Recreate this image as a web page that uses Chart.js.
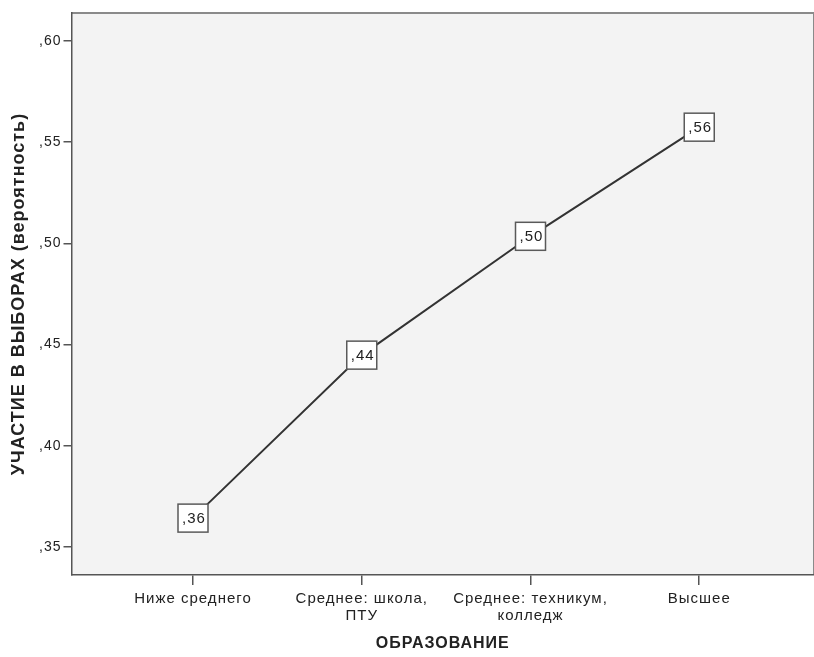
<!DOCTYPE html>
<html>
<head>
<meta charset="utf-8">
<script src="https://cdn.jsdelivr.net/npm/chart.js@4.4.1/dist/chart.umd.min.js"></script>
<style>
  body { margin: 0; background: #ffffff; }
  canvas { display: block; }
</style>
</head>
<body>
<canvas id="turnoutChart" width="814" height="657"></canvas>
<script>
// Education level vs. probability of voting (SPSS-style line chart)

const educationLevels = [
    ['Ниже среднего'],
    ['Среднее: школа,', 'ПТУ'],
    ['Среднее: техникум,', 'колледж'],
    ['Высшее']
];
const turnoutProb = [0.3643, 0.4448, 0.5035, 0.5574];
const yTickValues = [0.35, 0.40, 0.45, 0.50, 0.55, 0.60];

const FONT = '"Liberation Sans", Arial, sans-serif';

// format like SPSS: ,36 instead of 0.36
function commaFormat(v) {
    return ',' + v.toFixed(2).split('.')[1];
}

// SPSS text is a bit spaced out
const spacing = {
    id: 'spacing',
    beforeLayout(chart) { chart.ctx.letterSpacing = '1px'; },
    beforeDraw(chart) { chart.ctx.letterSpacing = '1px'; }
};

// grey background and frame for the plot area
const plotFrame = {
    id: 'plotFrame',
    beforeDraw(chart) {
        const { ctx, chartArea: a } = chart;
        ctx.save();
        ctx.fillStyle = '#f3f3f3';
        ctx.fillRect(a.left, a.top, a.right - a.left, a.bottom - a.top);
        ctx.strokeStyle = '#8a8a8a';
        ctx.lineWidth = 2;
        ctx.beginPath();
        ctx.moveTo(a.left, a.top);
        ctx.lineTo(a.right, a.top);
        ctx.lineTo(a.right, a.bottom);
        ctx.stroke();
        ctx.restore();
    }
};

// boxed value labels on each point
const boxedLabels = {
    id: 'boxedLabels',
    afterDatasetsDraw(chart) {
        const { ctx } = chart;
        const meta = chart.getDatasetMeta(0);
        ctx.save();
        ctx.font = '15px ' + FONT;
        ctx.textAlign = 'center';
        ctx.textBaseline = 'middle';
        meta.data.forEach((pt, i) => {
            const txt = commaFormat(turnoutProb[i]);
            const w = 30;
            const h = 28;
            ctx.fillStyle = '#ffffff';
            ctx.fillRect(pt.x - w / 2, pt.y - h / 2, w, h);
            ctx.strokeStyle = '#5a5a5a';
            ctx.lineWidth = 1.5;
            ctx.strokeRect(pt.x - w / 2, pt.y - h / 2, w, h);
            ctx.fillStyle = '#222222';
            ctx.fillText(txt, pt.x + 1, pt.y + 1);
        });
        ctx.restore();
    }
};

const ctx = document.getElementById('turnoutChart').getContext('2d');

new Chart(ctx, {
    type: 'line',
    data: {
        datasets: [{
            data: turnoutProb.map((v, i) => ({ x: i, y: v })),
            borderColor: '#333333',
            borderWidth: 2,
            pointRadius: 0,
            fill: false,
            tension: 0
        }]
    },
    options: {
        responsive: false,
        animation: false,
        layout: { padding: { top: 13, right: 0, left: 0, bottom: 0 } },
        plugins: {
            legend: { display: false },
            tooltip: { enabled: false }
        },
        scales: {
            x: {
                type: 'linear',
                min: -0.72,
                max: 3.68,
                afterBuildTicks: (scale) => {
                    scale.ticks = educationLevels.map((_, i) => ({ value: i }));
                },
                afterFit: (scale) => { scale.height = 82; },
                ticks: {
                    autoSkip: false,
                    maxRotation: 0,
                    padding: 6,
                    color: '#222222',
                    font: { family: FONT, size: 15, lineHeight: 1.1 },
                    callback: (v) => educationLevels[v]
                },
                grid: { drawOnChartArea: false, tickLength: 10, color: '#555555', lineWidth: 1.5 },
                border: { color: '#555555', width: 1.5 },
                title: {
                    display: true,
                    text: 'ОБРАЗОВАНИЕ',
                    color: '#222222',
                    font: { family: FONT, size: 16, weight: 'bold', lineHeight: 1.2 },
                    padding: { top: 0, bottom: 4 }
                }
            },
            y: {
                min: 0.3362,
                max: 0.6138,
                afterBuildTicks: (scale) => {
                    scale.ticks = yTickValues.map(v => ({ value: v }));
                },
                afterFit: (scale) => { scale.width = 71.5; },
                ticks: {
                    padding: 2,
                    color: '#222222',
                    font: { family: FONT, size: 14 },
                    callback: (v) => commaFormat(v)
                },
                grid: { drawOnChartArea: false, tickLength: 8, color: '#555555', lineWidth: 1.5 },
                border: { color: '#555555', width: 1.5 },
                title: {
                    display: true,
                    text: 'УЧАСТИЕ В ВЫБОРАХ (вероятность)',
                    color: '#222222',
                    font: { family: FONT, size: 18, weight: 'bold', lineHeight: 1.2 },
                    padding: { top: 8, bottom: 0 }
                }
            }
        }
    },
    plugins: [spacing, plotFrame, boxedLabels]
});
</script>
</body>
</html>
